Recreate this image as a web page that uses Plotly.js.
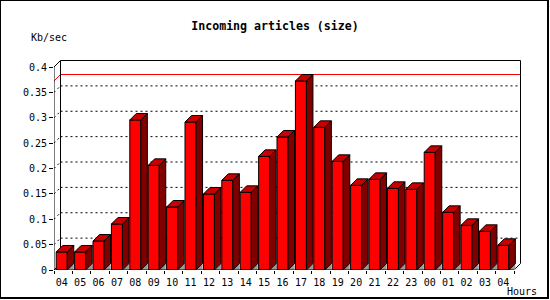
<!DOCTYPE html>
<html>
<head>
<meta charset="utf-8">
<script src="https://cdn.plot.ly/plotly-3.0.1.min.js"></script>
<style>
html,body{margin:0;padding:0;background:#fff;}
#chart{width:550px;height:300px;}
</style>
</head>
<body>
<div id="chart"></div>
<script>
// ---- data ----
var hours = ['04','05','06','07','08','09','10','11','12','13','14','15','16','17','18','19','20','21','22','23','00','01','02','03','04'];
var kbPerSec = [0.0355,0.0355,0.0571,0.0906,0.2956,0.2062,0.1241,0.2916,0.1497,0.1767,0.1530,0.2239,0.2621,0.3724,0.2811,0.2141,0.1668,0.1786,0.1609,0.1589,0.2318,0.1136,0.0880,0.0762,0.0486];
var yTickVals = [0,0.05,0.1,0.15,0.2,0.25,0.3,0.35,0.4];
var yTickText = ['0','0.05','0.1','0.15','0.2','0.25','0.3','0.35','0.4'];
var titleText = 'Incoming articles (size)';
var yUnit = 'Kb/sec';
var xUnit = 'Hours';

// ---- geometry (pixels) ----
var W = 550, H = 300;
var L = 54, R = 524, T = 55, B = 270;
var pxPerCat = 18.4, pxPerUnit = 507.5, depthPx = 6.5;
var xMax = (R - L) / pxPerCat;
var yMax = (B - T) / pxPerUnit;
var DX = depthPx / pxPerCat, DY = depthPx / pxPerUnit;
var n = hours.length;
var yTop = yTickVals[yTickVals.length - 1];
var off = 0.12, bw = 0.6;

function px(x){ return (x - L) / (R - L); }
function py(y){ return (B - y) / (B - T); }

var centers = [], sideX = [], sideY = [], topX = [], topY = [], grayX = [], grayY = [], bounds = [];
for (var i = 0; i < n; i++) {
  var v = kbPerSec[i];
  var xl = i + off, xr = i + off + bw;
  centers.push(xl + bw / 2);
  sideX.push(xr, xr, xr + DX, xr + DX, xr, null);
  sideY.push(0, v, v + DY, DY, 0, null);
  topX.push(xl, xl + DX, xr + DX, xr, xl, null);
  topY.push(v, v + DY, v + DY, v, v, null);
  grayX.push(xr, xr + DX, xr + DX, xr, null);
  grayY.push(0, DY, 0, 0, null);
}
for (var j = 0; j <= n; j++) bounds.push(j);

var traces = [
  {type:'bar', x:centers, y:kbPerSec, width:bw, marker:{color:'#ff0000', line:{color:'#000', width:1}}, hoverinfo:'skip', showlegend:false},
  {type:'scatter', mode:'lines', x:grayX, y:grayY, fill:'toself', fillcolor:'#999999', line:{width:0, color:'#999999'}, hoverinfo:'skip', showlegend:false},
  {type:'scatter', mode:'lines', x:sideX, y:sideY, fill:'toself', fillcolor:'#800000', line:{width:1, color:'#000'}, hoverinfo:'skip', showlegend:false},
  {type:'scatter', mode:'lines', x:topX, y:topY, fill:'toself', fillcolor:'#c80000', line:{width:1, color:'#000'}, hoverinfo:'skip', showlegend:false}
];

var shapes = [];
// dotted grid on back wall and side wall
for (var k = 1; k < yTickVals.length - 1; k++) {
  var g = yTickVals[k];
  shapes.push({type:'line', xref:'x', yref:'y', x0:DX, x1:n + DX, y0:g + DY, y1:g + DY, layer:'below', line:{color:'#000', width:1, dash:'2px,3px'}});
  shapes.push({type:'line', xref:'x', yref:'y', x0:0, x1:DX, y0:g, y1:g + DY, layer:'below', line:{color:'#000', width:1, dash:'2px,3px'}});
}
// max line (red)
var mx = Math.max.apply(null, kbPerSec);
shapes.push({type:'path', xref:'x', yref:'y', layer:'below', line:{color:'#ff0000', width:1},
  path:'M0,' + mx + 'L' + DX + ',' + (mx + DY) + 'L' + (n + DX) + ',' + (mx + DY)});
// back wall frame
shapes.push({type:'path', xref:'x', yref:'y', layer:'below', line:{color:'#000', width:1},
  path:'M0,0L' + DX + ',' + DY + 'L' + DX + ',' + (yTop + DY) + 'L' + (n + DX) + ',' + (yTop + DY) + 'L' + (n + DX) + ',' + DY + 'L' + n + ',0'});
shapes.push({type:'line', xref:'x', yref:'y', layer:'below', x0:0, y0:yTop, x1:DX, y1:yTop + DY, line:{color:'#000', width:1}});
// front axes
shapes.push({type:'line', xref:'x', yref:'y', layer:'above', x0:0, y0:0, x1:0, y1:yTop, line:{color:'#000', width:1}});
shapes.push({type:'line', xref:'x', yref:'y', layer:'above', x0:0, y0:0, x1:n, y1:0, line:{color:'#000', width:1}});
// image border
shapes.push({type:'line', xref:'paper', yref:'paper', x0:px(0.5), x1:px(0.5), y0:py(0), y1:py(298), line:{color:'#000', width:1}});
shapes.push({type:'line', xref:'paper', yref:'paper', x0:px(0), x1:px(549), y0:py(0.5), y1:py(0.5), line:{color:'#000', width:1}});
shapes.push({type:'line', xref:'paper', yref:'paper', x0:px(548), x1:px(548), y0:py(0), y1:py(299), line:{color:'#000', width:2}});
shapes.push({type:'line', xref:'paper', yref:'paper', x0:px(0), x1:px(549), y0:py(298), y1:py(298), line:{color:'#000', width:2}});

var mono = 'DejaVu Sans Mono, monospace';
var layout = {
  width:W, height:H,
  margin:{l:L, r:W - R, t:T, b:H - B, pad:0},
  paper_bgcolor:'#fff', plot_bgcolor:'rgba(0,0,0,0)',
  font:{family:mono, size:10, color:'#000'},
  showlegend:false,
  bargap:0,
  title:{text:titleText, font:{family:mono, size:11.6, weight:'bold', color:'#000'}, x:0.5, xref:'container', y:1 - 26 / H, yref:'container', yanchor:'middle', xanchor:'center'},
  xaxis:{range:[0, xMax], fixedrange:true, showgrid:false, zeroline:false, showline:false,
    tickmode:'array', tickvals:centers, ticktext:hours, ticks:'', ticklen:0, ticklabelstandoff:5,
    minor:{tickmode:'array', tickvals:bounds, ticks:'outside', ticklen:3, tickcolor:'#000', tickwidth:1, showgrid:false},
    tickfont:{family:mono, size:10, color:'#000'}},
  yaxis:{range:[0, yMax], fixedrange:true, showgrid:false, zeroline:false, showline:false,
    tickmode:'array', tickvals:yTickVals, ticktext:yTickText, ticks:'outside', ticklen:4, tickcolor:'#000', tickwidth:1,
    tickfont:{family:mono, size:10, color:'#000'}},
  shapes:shapes,
  annotations:[
    {text:yUnit, xref:'paper', yref:'paper', x:px(29), y:py(37), xanchor:'left', yanchor:'middle', showarrow:false, font:{family:mono, size:10, color:'#000'}},
    {text:xUnit, xref:'paper', yref:'paper', x:px(505), y:py(291), xanchor:'left', yanchor:'middle', showarrow:false, font:{family:mono, size:10, color:'#000'}}
  ]
};

Plotly.newPlot('chart', traces, layout, {staticPlot:true, displayModeBar:false});
</script>
</body>
</html>
